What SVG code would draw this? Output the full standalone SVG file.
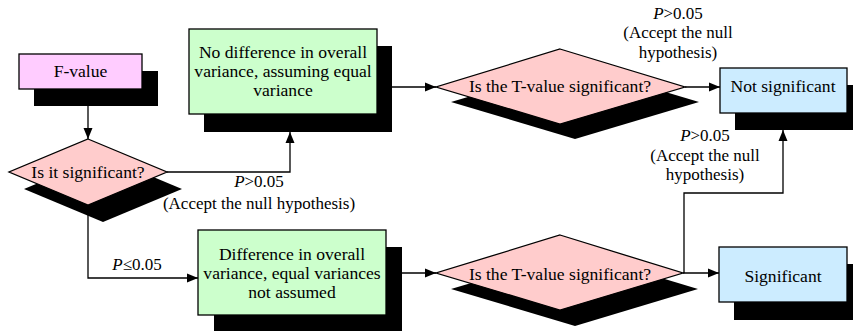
<svg xmlns="http://www.w3.org/2000/svg" width="853" height="331" viewBox="0 0 853 331">
<defs>
<marker id="arr" markerUnits="userSpaceOnUse" markerWidth="12" markerHeight="10" refX="11" refY="5" orient="auto">
<path d="M0,0.5 L11,5 L0,9.5 z" fill="#000"/>
</marker>
<style>
.sh{fill:#000}
.box{stroke:#000;stroke-width:1.3}
.pink{fill:#FFCCFF}
.dia{fill:#FFCCCC}
.grn{fill:#CCFFCC}
.blu{fill:#CCECFF}
text{font-family:"Liberation Serif","Times New Roman",serif;font-size:17.6px;fill:#000;text-anchor:middle}
.lb{font-size:17px}
.c{fill:none;stroke:#000;stroke-width:1.3}
.i{font-style:italic}
</style>
</defs>
<rect width="853" height="331" fill="#fff"/>
<g id="fvalue">
<rect class="sh" x="34" y="71" width="124" height="35"/>
<rect class="box pink" x="19" y="54" width="123" height="35"/>
<text x="80.5" y="77">F-value</text>
</g>
<g id="sig1">
<polygon class="sh" points="103,156 182,189 103,222 24,189"/>
<polygon class="box dia" points="88,139 167,172 88,205 9,172"/>
<text x="88" y="178">Is it significant?</text>
</g>
<g id="equal">
<rect class="sh" x="204" y="46" width="188" height="86"/>
<rect class="box grn" x="189" y="29" width="188" height="85"/>
<text x="283" y="58">No difference in overall</text>
<text x="283" y="77">variance, assuming equal</text>
<text x="283" y="96">variance</text>
</g>
<g id="unequal">
<rect class="sh" x="214" y="247" width="188" height="86"/>
<rect class="box grn" x="198" y="230" width="188" height="85"/>
<text x="292" y="260">Difference in overall</text>
<text x="292" y="279">variance, equal variances</text>
<text x="292" y="298">not assumed</text>
</g>
<g id="t1">
<polygon class="sh" points="575,65 699,102 575,139 451,102"/>
<polygon class="box dia" points="560,49 685,87 560,124 436,87"/>
<text x="560" y="92">Is the T-value significant?</text>
</g>
<g id="t2">
<polygon class="sh" points="575,252 698,289 575,326 451,289"/>
<polygon class="box dia" points="560,235 683,273 560,310 436,273"/>
<text x="560" y="280">Is the T-value significant?</text>
</g>
<g id="notsig">
<rect class="sh" x="735" y="85" width="128" height="45"/>
<rect class="box blu" x="720" y="68" width="127" height="45"/>
<text x="783" y="92">Not significant</text>
</g>
<g id="sig">
<rect class="sh" x="734" y="264" width="129" height="56"/>
<rect class="box blu" x="719" y="247" width="128" height="55"/>
<text x="783" y="282">Significant</text>
</g>
<g id="connectors">
<path class="c" d="M88,106 V139" marker-end="url(#arr)"/>
<path class="c" d="M167,172 H290 V132" marker-end="url(#arr)"/>
<path class="c" d="M88,205 V278 H198" marker-end="url(#arr)"/>
<path class="c" d="M377,87 H436" marker-end="url(#arr)"/>
<path class="c" d="M685,87 H720" marker-end="url(#arr)"/>
<path class="c" d="M386,273 H436" marker-end="url(#arr)"/>
<path class="c" d="M683,273 H719" marker-end="url(#arr)"/>
<path class="c" d="M684,273 V193 H783 V130" marker-end="url(#arr)"/>
</g>
<g id="labels">
<text class="lb" x="678" y="18.5"><tspan class="i">P</tspan>&gt;0.05</text>
<text class="lb" x="678" y="38">(Accept the null</text>
<text class="lb" x="678" y="57.5">hypothesis)</text>
<text class="lb" x="259" y="187"><tspan class="i">P</tspan>&gt;0.05</text>
<text class="lb" x="259" y="209">(Accept the null hypothesis)</text>
<text class="lb" x="137" y="270"><tspan class="i">P</tspan>≤0.05</text>
<text class="lb" x="705" y="141"><tspan class="i">P</tspan>&gt;0.05</text>
<text class="lb" x="705" y="160.5">(Accept the null</text>
<text class="lb" x="705" y="180">hypothesis)</text>
</g>
</svg>
